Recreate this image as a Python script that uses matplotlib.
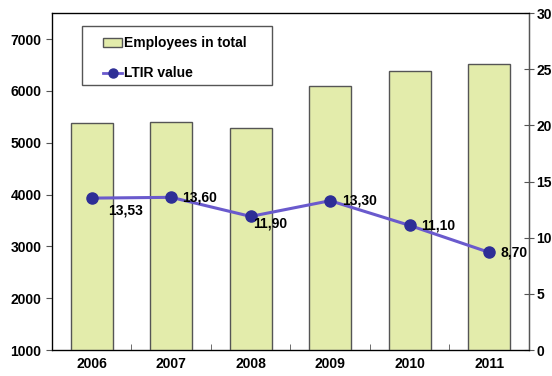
import matplotlib.pyplot as plt
from matplotlib.lines import Line2D
from matplotlib.patches import Patch, Rectangle

years = ['2006', '2007', '2008', '2009', '2010', '2011']
employees = [5380, 5400, 5290, 6100, 6390, 6520]
ltir = [13.53, 13.60, 11.90, 13.30, 11.10, 8.70]
ltir_labels = ['13,53', '13,60', '11,90', '13,30', '11,10', '8,70']

# label offsets in points (dx, dy)
label_offsets = [(12, -9), (8, 0), (2, -5), (8.5, 0), (8.5, 0), (8, 0)]

plt.rcParams['font.family'] = ['Liberation Sans', 'DejaVu Sans']
plt.rcParams['font.weight'] = 'bold'

bar_color = '#e3ecab'
edge_color = '#555555'
line_color = '#6a5acd'
marker_color = '#2e2e96'

fig = plt.figure(figsize=(5.52, 3.76), dpi=100)
ax = fig.add_axes([0.0942, 0.069, 0.8638, 0.896])
x = list(range(len(years)))

ax.bar(x, employees, width=0.53, color=bar_color,
       edgecolor=edge_color, linewidth=1.0, zorder=2)
ax.set_ylim(1000, 7500)
ax.set_xlim(-0.5, len(years) - 0.5)
ax.set_yticks(range(1000, 8000, 1000))
ax.set_xticks(x)
ax.set_xticklabels(years)
ax.set_xticks([i + 0.5 for i in x[:-1]], minor=True)
ax.tick_params(axis='x', which='major', length=0, pad=5, labelsize=10)
ax.tick_params(axis='x', which='minor', length=4, direction='in', color=edge_color)
ax.tick_params(axis='y', length=4, direction='out', labelsize=10, color=edge_color)
for s in ax.spines.values():
    s.set_color(edge_color)
    s.set_linewidth(1.0)

ax2 = ax.twinx()
ax2.plot(x, ltir, color=line_color, linewidth=2.2, marker='o', markersize=8,
         markerfacecolor=marker_color, markeredgecolor=marker_color, zorder=3)
ax2.set_ylim(0, 30)
ax2.set_yticks(range(0, 35, 5))
ax2.tick_params(axis='y', length=7, direction='inout', labelsize=10,
                color=edge_color, pad=2)
ax2.spines['right'].set_color(edge_color)

for xi, yi, lab, off in zip(x, ltir, ltir_labels, label_offsets):
    ax2.annotate(lab, (xi, yi), xytext=off, textcoords='offset points',
                 ha='left', va='center', fontsize=10, fontweight='bold')

# legend frame drawn separately so its padding matches the original
ax.add_patch(Rectangle((0.0629, 0.786), 0.398, 0.175, transform=ax.transAxes,
                       facecolor='white', edgecolor=edge_color, linewidth=1.0,
                       zorder=4, clip_on=False))
handles = [
    Patch(facecolor=bar_color, edgecolor=edge_color, label='Employees in total'),
    Line2D([0], [0], color=line_color, linewidth=2.0, marker='o', markersize=6.5,
           markerfacecolor=marker_color, markeredgecolor=marker_color,
           label='LTIR value'),
]
leg = ax.legend(handles=handles, loc='upper left', bbox_to_anchor=(0.107, 0.931),
                frameon=False, prop={'size': 10, 'weight': 'bold'}, borderpad=0,
                labelspacing=1.15, handlelength=1.4, handleheight=0.6,
                handletextpad=0.1, borderaxespad=0)
leg.set_zorder(5)

fig.savefig('out.png', dpi=100)
